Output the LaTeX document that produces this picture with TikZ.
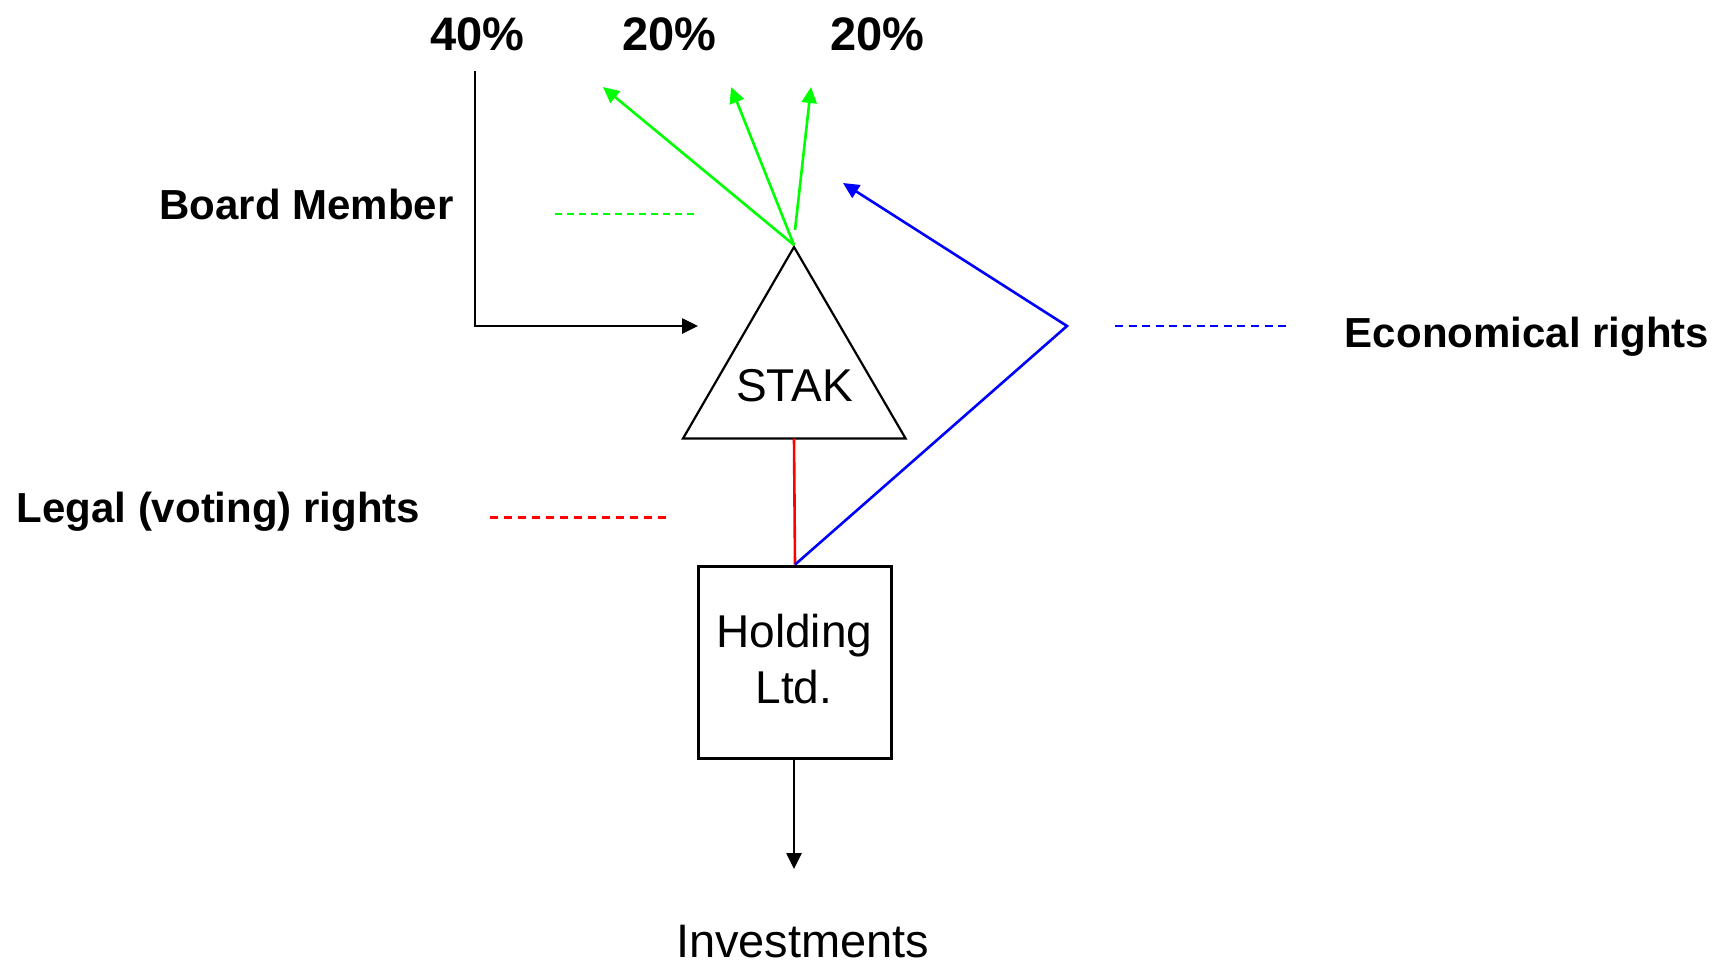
\documentclass[tikz,border=0pt]{standalone}
\usepackage{fontspec}
\setmainfont{Liberation Sans}
\usetikzlibrary{arrows.meta}
\definecolor{gline}{RGB}{0,255,0}
\definecolor{bline}{RGB}{0,0,255}
\definecolor{rline}{RGB}{255,0,0}
\tikzset{
  lbl/.style={inner sep=0pt, anchor=base, font=\fontsize{21}{25}\selectfont\bfseries},
  pct/.style={inner sep=0pt, anchor=base, font=\fontsize{23.5}{28}\selectfont\bfseries},
  txt/.style={inner sep=0pt, anchor=base, font=\fontsize{23}{28}\selectfont},
  conn/.style={line width=1.3pt},
  tip/.style={-{Triangle[length=8pt,width=7.5pt]}},
  legdash/.style={line width=1.1pt},
  boxstyle/.style={draw, line width=1.5pt, minimum width=96.2pt, minimum height=96.3pt, inner sep=0pt}
}
\begin{document}
\begin{tikzpicture}[x=0.5pt,y=-0.5pt]
\useasboundingbox (0,0) rectangle (1719,964);
% texts
\node[pct] (p40) at (477.5,50) {40\%};
\node[pct] (p20a) at (669.5,50) {20\%};
\node[pct] (p20b) at (877.5,50) {20\%};
\node[lbl] (board) at (306.5,219) {Board Member};
\node[lbl] (legal) at (218.5,522.3) {Legal (voting) rights};
\node[lbl] (econ) at (1527,347) {Economical rights};
% triangle STAK
\coordinate (apex) at (794,247);
\coordinate (bl) at (683,438.5);
\coordinate (br) at (905.6,438.5);
\coordinate (bmid) at (794,438.5);
\draw[line width=1.1pt, line join=miter] (apex) -- (bl) -- (br) -- cycle;
\node[txt] (stak) at (794.5,401) {STAK};
% holding box
\node[boxstyle] (holding) at (795,662.4) {};
\node[txt] (hold1) at (794.2,647.3) {Holding};
\node[txt] (hold2) at (793.8,703.3) {Ltd.};
\node[txt, font=\fontsize{23.5}{28}\selectfont] (inv) at (802.7,957) {Investments};
% black board member connector
\coordinate (btop) at (475,71);
\coordinate (bcorner) at (475,326);
\coordinate (btip) at (698,326);
\draw[conn, tip] (btop) -- (bcorner) -- (btip);
% green arrows
\coordinate (gstart) at (794,245);
\coordinate (gstart3) at (795,230);
\coordinate (g1) at (603,87);
\coordinate (g2) at (731,87);
\coordinate (g3) at (811,87);
\draw[conn, gline, tip] (gstart) -- (g1);
\draw[conn, gline, tip] (gstart) -- (g2);
\draw[conn, gline, tip] (gstart3) -- (g3);
% red legal line
\draw[conn, rline] (bmid) -- (holding.north);
% blue economical line
\coordinate (bluecorner) at (1067,326);
\coordinate (bluetip) at (843,183);
\draw[conn, bline, tip, line join=miter] (holding.north) -- (bluecorner) -- (bluetip);
% investments arrow
\coordinate (invtip) at (794,869);
\draw[conn, tip] (holding.south -| invtip) -- (invtip);
% legend dashes
\coordinate (gd1) at (555,214.3);
\coordinate (gd2) at (699,214.3);
\draw[legdash, gline, dash pattern=on 3.7pt off 2.3pt] (gd1) -- (gd2);
\coordinate (rd1) at (490,517.5);
\coordinate (rd2) at (667,517.5);
\draw[legdash, rline, dash pattern=on 4.2pt off 2.8pt] (rd1) -- (rd2);
\coordinate (bd1) at (1115,326);
\coordinate (bd2) at (1291,326);
\draw[legdash, bline, dash pattern=on 4pt off 2.8pt] (bd1) -- (bd2);
\end{tikzpicture}
\end{document}
